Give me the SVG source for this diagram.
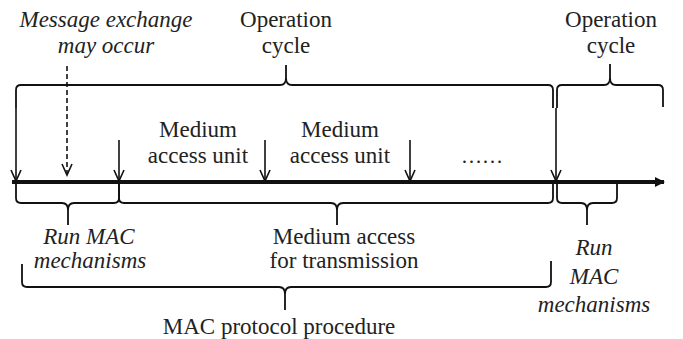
<svg xmlns="http://www.w3.org/2000/svg" width="683" height="339" viewBox="0 0 683 339">
  <style>
    .t { font-family: 'Liberation Serif', Tinos, 'Nimbus Roman', 'Nimbus Roman No9 L', FreeSerif, 'Noto Serif', 'DejaVu Serif', 'Times New Roman', Times, serif; font-size: 23px; fill: #222; text-anchor: middle; }
    .i { font-style: italic; }
    .brace { fill: none; stroke: #111; stroke-width: 1.8; stroke-linejoin: round; }
    .arr { fill: none; stroke: #111; stroke-width: 1.6; marker-end: url(#open); }
    .dash { stroke-dasharray: 5 3; }
  </style>
  <defs>
    <marker id="open" viewBox="-13 -7 15 14" refX="0" refY="0" markerWidth="15" markerHeight="14" markerUnits="userSpaceOnUse" orient="auto">
      <path d="M-11,-5 L0,0 L-11,5" fill="none" stroke="#111" stroke-width="1.6"/>
    </marker>
    <marker id="solid" viewBox="-10 -6 12 12" refX="0" refY="0" markerWidth="12" markerHeight="12" markerUnits="userSpaceOnUse" orient="auto">
      <path d="M-9,-5 L1,0 L-9,5 Z" fill="#111"/>
    </marker>
  </defs>

  <!-- time axis -->
  <g id="axis">
    <line x1="12" y1="182" x2="664" y2="182" stroke="#111" stroke-width="4" marker-end="url(#solid)"/>
  </g>

  <!-- labels above the axis -->
  <g id="message-exchange">
    <text class="t i" x="106" y="27">Message exchange</text>
    <text class="t i" x="106" y="53">may occur</text>
  </g>
  <g id="operation-cycle-1">
    <text class="t" x="286" y="27">Operation</text>
    <text class="t" x="286" y="53">cycle</text>
  </g>
  <g id="operation-cycle-2">
    <text class="t" x="611" y="27">Operation</text>
    <text class="t" x="611" y="53">cycle</text>
  </g>
  <g id="medium-access-unit-1">
    <text class="t" x="198" y="137">Medium</text>
    <text class="t" x="198" y="163">access unit</text>
  </g>
  <g id="medium-access-unit-2">
    <text class="t" x="340" y="137">Medium</text>
    <text class="t" x="340" y="163">access unit</text>
  </g>
  <g id="ellipsis">
    <text class="t" x="482" y="163" style="font-size:21px">……</text>
  </g>

  <!-- labels below the axis -->
  <g id="run-mac-1">
    <text class="t i" x="89" y="244">Run MAC</text>
    <text class="t i" x="90" y="268">mechanisms</text>
  </g>
  <g id="medium-access-transmission">
    <text class="t" x="344" y="244">Medium access</text>
    <text class="t" x="344" y="268">for transmission</text>
  </g>
  <g id="run-mac-2">
    <text class="t i" x="594" y="255">Run</text>
    <text class="t i" x="594" y="284">MAC</text>
    <text class="t i" x="594" y="312">mechanisms</text>
  </g>
  <g id="mac-protocol-procedure">
    <text class="t" x="279" y="334">MAC protocol procedure</text>
  </g>

  <!-- braces and arrows -->
  <g id="connectors">
    <!-- operation cycle braces -->
    <path class="brace" d="M16,108 V90 Q16,85 21,85 H280 Q286,85 286,78 V65 M286,78 Q286,85 292,85 H548 Q553,85 553,90 V108"/>
    <path class="brace" d="M557,108 V90 Q557,85 562,85 H604 Q610,85 610,78 V64 M610,78 Q610,85 616,85 H658 Q663,85 663,90 V107"/>

    <!-- phase braces under the axis -->
    <path class="brace" d="M16,184 V198 Q16,203 21,203 H62 Q68,203 68,210 V225 M68,210 Q68,203 74,203 H114 Q119,203 119,198 V184"/>
    <path class="brace" d="M119,184 V198 Q119,203 124,203 H331 Q337,203 337,210 V225 M337,210 Q337,203 343,203 H548 Q553,203 553,198 V184"/>
    <path class="brace" d="M557,184 V198 Q557,203 562,203 H581 Q587,203 587,210 V225 M587,210 Q587,203 593,203 H612 Q617,203 617,198 V184"/>

    <!-- whole procedure brace -->
    <path class="brace" d="M22,264 V282 Q22,287 27,287 H279 Q285,287 285,294 V310 M285,294 Q285,287 291,287 H546 Q551,287 551,282 V261"/>

    <!-- event arrows onto the axis -->
    <line class="arr" x1="16" y1="108" x2="16" y2="181"/>
    <line class="arr dash" x1="67" y1="66" x2="67" y2="175"/>
    <line class="arr" x1="119" y1="140" x2="119" y2="181"/>
    <line class="arr" x1="265" y1="140" x2="265" y2="181"/>
    <line class="arr" x1="410" y1="140" x2="410" y2="181"/>
    <line class="arr" x1="556" y1="108" x2="556" y2="181"/>
  </g>
</svg>
